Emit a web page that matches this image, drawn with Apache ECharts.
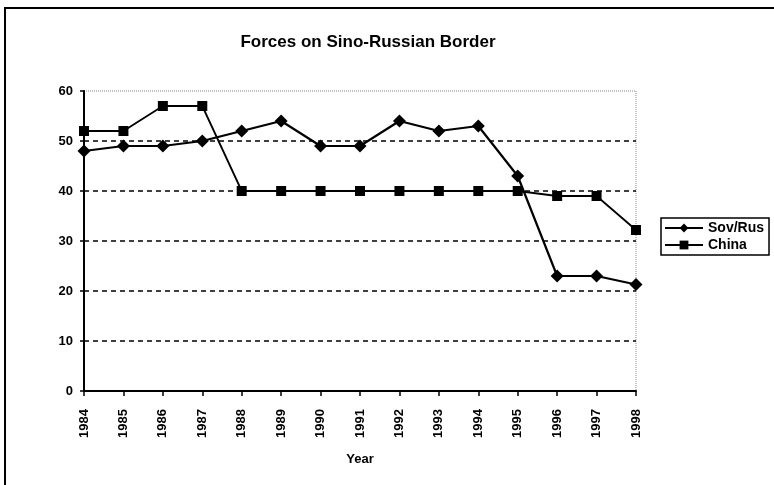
<!DOCTYPE html>
<html>
<head>
<meta charset="utf-8">
<script src="https://cdn.jsdelivr.net/npm/echarts@6/dist/echarts.min.js"></script>
<style>
  html, body { margin: 0; padding: 0; background: #fff; }
  #chart { width: 774px; height: 485px; }
</style>
</head>
<body>
<div id="chart"></div>
<script>
const years = ['1984', '1985', '1986', '1987', '1988', '1989', '1990', '1991',
  '1992', '1993', '1994', '1995', '1996', '1997', '1998'];
const sovRus = [48, 49, 49, 50, 52, 54, 49, 49, 54, 52, 53, 43, 23, 23, 21.3];
const china = [52, 52, 57, 57, 40, 40, 40, 40, 40, 40, 40, 40, 39, 39, 32.2];

const font = 'Liberation Sans, Arial, sans-serif';

const chart = echarts.init(document.getElementById('chart'));

chart.setOption({
  animation: false,
  backgroundColor: '#fff',
  title: {
    text: 'Forces on Sino-Russian Border',
    left: 363,
    textAlign: 'center',
    top: 29,
    textStyle: { fontFamily: font, fontWeight: 'bold', fontSize: 17, color: '#000' }
  },
  graphic: [{
    type: 'rect',
    shape: { x: 5, y: 8, width: 820, height: 520 },
    style: { fill: 'none', stroke: '#000', lineWidth: 2 },
    silent: true
  }],
  legend: {
    orient: 'vertical',
    left: 661,
    top: 218,
    padding: [3, 5, 3, 3],
    itemGap: 3,
    itemWidth: 38,
    itemHeight: 11,
    borderColor: '#000',
    borderWidth: 1.5,
    textStyle: { fontFamily: font, fontWeight: 'bold', fontSize: 14, color: '#000' },
    data: ['Sov/Rus', 'China']
  },
  grid: {
    left: 84,
    right: 138,
    top: 91,
    bottom: 94,
    show: true,
    borderColor: '#888',
    borderWidth: 1,
    borderType: 'dotted'
  },
  xAxis: {
    type: 'category',
    data: years,
    boundaryGap: false,
    name: 'Year',
    nameLocation: 'middle',
    nameGap: 62,
    nameTextStyle: { fontFamily: font, fontWeight: 'bold', fontSize: 13, color: '#000' },
    axisLine: { lineStyle: { color: '#000', width: 2 } },
    axisTick: { show: true, length: 5, inside: false, lineStyle: { color: '#000', width: 1.5 } },
    axisLabel: {
      rotate: 90,
      margin: 18,
      fontFamily: font,
      fontWeight: 'bold',
      fontSize: 13,
      color: '#000'
    },
    splitLine: { show: false }
  },
  yAxis: {
    type: 'value',
    min: 0,
    max: 60,
    interval: 10,
    axisLine: { show: true, lineStyle: { color: '#000', width: 2 } },
    axisTick: { show: true, length: 4, lineStyle: { color: '#000', width: 1.5 } },
    axisLabel: {
      margin: 11,
      fontFamily: font,
      fontWeight: 'bold',
      fontSize: 13,
      color: '#000'
    },
    splitLine: {
      show: true,
      lineStyle: {
        color: ['#000', '#000', '#000', '#000', '#000', '#000', 'rgba(0,0,0,0)'],
        width: 1.5,
        type: [5, 4]
      }
    }
  },
  series: [
    {
      name: 'Sov/Rus',
      type: 'line',
      data: sovRus,
      symbol: 'diamond',
      symbolSize: 13,
      itemStyle: { color: '#000' },
      lineStyle: { color: '#000', width: 2.2 },
      z: 3
    },
    {
      name: 'China',
      type: 'line',
      data: china,
      symbol: 'rect',
      symbolSize: 10,
      itemStyle: { color: '#000' },
      lineStyle: { color: '#000', width: 1.8 },
      z: 2
    }
  ]
});
</script>
</body>
</html>
